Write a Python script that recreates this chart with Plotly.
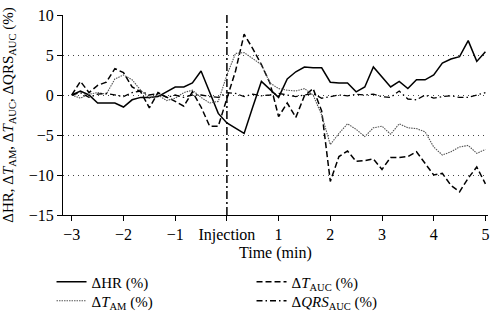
import plotly.graph_objects as go

# ---- data ----
TIME_MIN = [-3.0, -2.833, -2.667, -2.5, -2.333, -2.167, -2.0, -1.833, -1.667, -1.5,
            -1.333, -1.167, -1.0, -0.833, -0.667, -0.5, -0.333, -0.167, 0.0, 0.167,
            0.333, 0.5, 0.667, 0.833, 1.0, 1.167, 1.333, 1.5, 1.667, 1.833,
            2.0, 2.167, 2.333, 2.5, 2.667, 2.833, 3.0, 3.167, 3.333, 3.5,
            3.667, 3.833, 4.0, 4.167, 4.333, 4.5, 4.667, 4.833, 5.0]

D_HR = [0, 0.5, 0, -1.0, -1.0, -1.0, -1.5, -0.6, -0.3, -0.3,
        -0.2, 0.4, 1.0, 1.0, 1.5, 3.0, 0.3, -2.3, -3.5, -4.1,
        -4.8, -1.5, 1.7, 0.7, -0.3, 2.0, 2.9, 3.5, 3.4, 3.4,
        1.6, 1.5, 1.5, 0.4, 1.0, 3.5, 2.2, 1.0, 1.7, 0.8,
        1.9, 1.9, 2.5, 4.0, 4.5, 4.8, 6.8, 4.2, 5.4]

D_TAUC = [0, 1.7, 0.3, 1.2, 1.6, 3.3, 2.8, 1.0, 0.4, -1.6,
          0.3, -0.3, -0.8, -1.4, 0.4, -1.5, -3.9, -3.9, -0.5, 3.0,
          7.6, 5.8, 3.8, 1.5, -2.7, -1.0, -2.8, -0.1, 0.8, -2.0,
          -10.8, -7.7, -7.0, -8.3, -8.2, -8.0, -9.3, -7.8, -7.8, -7.7,
          -7.1, -8.5, -10.0, -9.8, -11.3, -12.1, -10.4, -9.0, -11.1]

D_TAM = [0, -0.4, 0.1, 0.3, 0.1, 2.0, 2.5, 1.9, 0.6, -0.4,
         0.0, -0.7, -0.4, 0.3, 0.6, -0.3, -1.0, -0.8, 2.5, 5.2,
         5.3, 4.6, 3.8, 1.5, 0.8, 0.6, 0.5, 0.8, 0.0, -2.5,
         -6.2, -4.8, -3.6, -4.3, -5.2, -4.1, -3.9, -4.9, -3.6, -4.1,
         -4.2, -4.6, -6.5, -7.5, -7.1, -6.5, -6.3, -7.3, -6.8]

D_QRS = [0, 0.3, -0.3, 0.1, 0.2, 0.0, -0.2, 0.3, 0.5, 0.0,
         0.2, -0.3, 0.0, -0.3, 0.0, 0.0, -0.2, -0.3, 0.3, 0.2,
         -0.2, 0.1, -0.1, 0.0, 0.2, 0.0, -0.2, 0.0, 0.2, -0.4,
         -0.2, 0.0, -0.1, 0.1, 0.0, 0.1, -0.2, -0.3, 0.5, -0.5,
         -0.6, 0.0, -0.4, -0.2, -0.1, -0.3, -0.3, 0.0, 0.3]

X_TICKS = [-3, -2, -1, 0, 1, 2, 3, 4, 5]
X_TICK_LABELS = ["\u22123", "\u22122", "\u22121", "Injection", "1", "2", "3", "4", "5"]
Y_TICKS = [-15, -10, -5, 0, 5, 10]
Y_TICK_LABELS = ["\u221215", "\u221210", "\u22125", "0", "5", "10"]
INJECTION_T = 0
X_TITLE = "Time (min)"
Y_TITLE = ("\u0394HR, \u0394<i>T</i><sub>AM</sub>, \u0394<i>T</i><sub>AUC</sub>, "
           "\u0394QRS<sub>AUC</sub> (%)")

NAMES = ["\u0394HR (%)",
         "\u0394<i>T</i><sub>AUC</sub> (%)",
         "\u0394<i>T</i><sub>AM</sub> (%)",
         "\u0394<i>QRS</i><sub>AUC</sub> (%)"]
LEGEND_ROW = ["legend", "legend", "legend2", "legend2"]

FONT = "Liberation Serif"

fig = go.Figure()
series = [
    (D_HR, dict(color="black", width=1.5, dash="solid")),
    (D_TAUC, dict(color="black", width=1.5, dash="6px,3px")),
    (D_TAM, dict(color="#555555", width=1.1, dash="1.5px,1px")),
    (D_QRS, dict(color="black", width=1.3, dash="6px,3px,1.5px,3px")),
]
for (ys, ln), name, lg in zip(series, NAMES, LEGEND_ROW):
    fig.add_trace(go.Scatter(x=TIME_MIN, y=ys, mode="lines", name=name, line=ln, legend=lg))

fig.add_shape(type="line", xref="x", yref="y", x0=INJECTION_T, x1=INJECTION_T,
              y0=-15, y1=10, line=dict(color="black", width=1.5, dash="8px,3px,2px,3px"))

fig.add_annotation(text=X_TITLE, xref="paper", yref="paper", x=0.5, y=-0.19,
                   xanchor="center", yanchor="middle", showarrow=False,
                   font=dict(family=FONT, size=16, color="black"))

leg_common = dict(orientation="h", x=-0.027, xanchor="left", yanchor="middle",
                  entrywidth=155, entrywidthmode="pixels", itemwidth=30,
                  font=dict(family=FONT, size=15), bgcolor="rgba(0,0,0,0)",
                  traceorder="normal")

fig.update_layout(
    width=495, height=316,
    margin=dict(l=63, r=7, t=15, b=101, autoexpand=False),
    paper_bgcolor="white", plot_bgcolor="white",
    font=dict(family=FONT, size=15, color="black"),
    showlegend=True,
    legend=dict(leg_common, y=-0.335),
    legend2=dict(leg_common, y=-0.43),
    xaxis=dict(range=[-3.17, 5.05], tickvals=X_TICKS, ticktext=X_TICK_LABELS,
               showline=True, linecolor="black", linewidth=1.2,
               ticks="outside", ticklen=5, tickwidth=1.2, tickcolor="black",
               showgrid=False, zeroline=False, automargin=False,
               tickfont=dict(family=FONT, size=16)),
    yaxis=dict(range=[-15, 10], tickvals=Y_TICKS, ticktext=Y_TICK_LABELS,
               showline=True, linecolor="black", linewidth=1.2,
               ticks="outside", ticklen=5, tickwidth=1.2, tickcolor="black",
               showgrid=True, gridcolor="#444444", gridwidth=1, griddash="1px,4px",
               zeroline=False, automargin=False,
               tickfont=dict(family=FONT, size=16),
               title=dict(text=Y_TITLE, font=dict(family=FONT, size=15))),
)

fig.write_html("out.html", config={"displayModeBar": False},
               post_script="document.body.style.margin='0';document.body.style.padding='0';")
